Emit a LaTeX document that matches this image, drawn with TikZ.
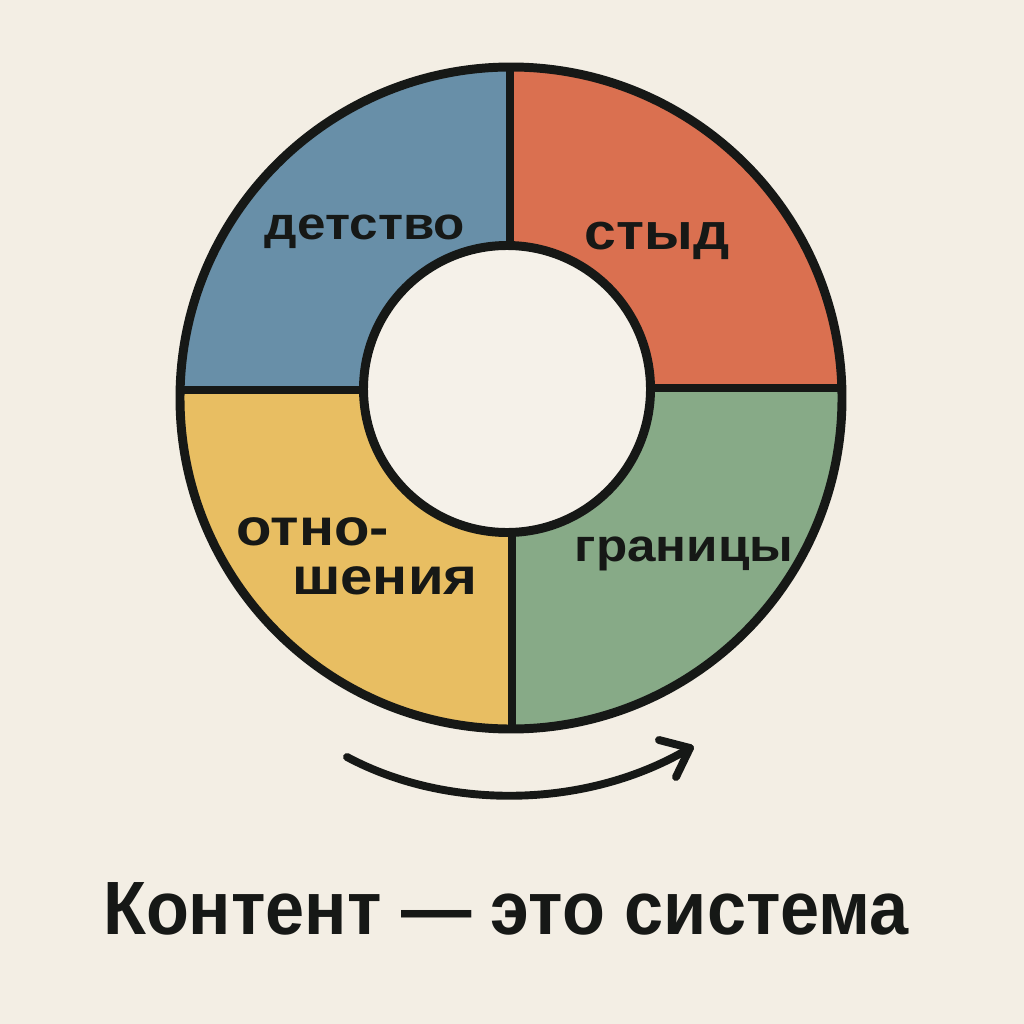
\documentclass[tikz,border=0pt]{standalone}
\usepackage{fontspec}
\setmainfont{Liberation Sans}
\newfontfamily\labfont[FakeStretch=1.12]{Liberation Sans Bold}
\newfontfamily\titfont[FakeStretch=0.93]{Liberation Sans Bold}
\definecolor{bg}{HTML}{F3EEE4}
\definecolor{inbg}{HTML}{F5F1E9}
\definecolor{cblue}{HTML}{688FA8}
\definecolor{corange}{HTML}{DA7050}
\definecolor{cgreen}{HTML}{87AA87}
\definecolor{cyellow}{HTML}{E8BE62}
\definecolor{ink}{HTML}{161816}
\tikzset{
  ringline/.style={draw=ink, line width=5.1pt},
  seglabel/.style={anchor=base, inner sep=0pt, text=ink, font=\labfont\fontsize{26}{28}\selectfont},
  flowarrow/.style={draw=ink, line width=4.5pt, line cap=round, line join=round},
}
\begin{document}
\begin{tikzpicture}[x=0.02cm,y=-0.02cm]
\useasboundingbox (0,0) rectangle (1024,1024);
\fill[bg] (0,0) rectangle (1024,1024);
\coordinate (oc) at (511,398);
\coordinate (ic) at (507,389);
% quadrants
\begin{scope}
\clip (0,0) rectangle (510,389);
\fill[cblue] (oc) circle[radius=331];
\end{scope}
\begin{scope}
\clip (510,0) rectangle (1024,389);
\fill[corange] (oc) circle[radius=331];
\end{scope}
\begin{scope}
\clip (0,389) rectangle (511,1024);
\fill[cyellow] (oc) circle[radius=331];
\end{scope}
\begin{scope}
\clip (511,389) rectangle (1024,1024);
\fill[cgreen] (oc) circle[radius=331];
\end{scope}
% dividers
\draw[ringline] (510,66) -- (510,389);
\draw[ringline] (512,389) -- (512,730);
\draw[ringline] (180,390) -- (507,390);
\draw[ringline] (507,388) -- (842,388);
% circles
\filldraw[ringline, fill=inbg] (ic) circle[radius=143.5];
\draw[ringline] (oc) circle[radius=331];
% labels
\node[seglabel] (l1) at (365,239) {детство};
\node[seglabel, font=\labfont\fontsize{29}{31}\selectfont] (l2) at (657,249) {стыд};
\node[seglabel, font=\labfont\fontsize{29.5}{31}\selectfont] (l3a) at (313,545) {отно-};
\node[seglabel, font=\labfont\fontsize{29.5}{31}\selectfont] (l3b) at (385,594) {шения};
\node[seglabel, font=\labfont\fontsize{26}{28}\selectfont] (l4) at (684,561) {границы};
% arrow
\coordinate (as) at (347,757);
\coordinate (at) at (690,748);
\coordinate (aw1) at (659,740);
\coordinate (aw2) at (676,777);
\draw[flowarrow] (as) .. controls (450,812) and (590,808) .. (at);
\draw[flowarrow] (aw1) -- (at) -- (aw2);
% title
\node[anchor=base, inner sep=0pt, text=ink, font=\titfont\fontsize{43}{46}\selectfont] (title) at (506,934) {Контент — это система};
\end{tikzpicture}
\end{document}
